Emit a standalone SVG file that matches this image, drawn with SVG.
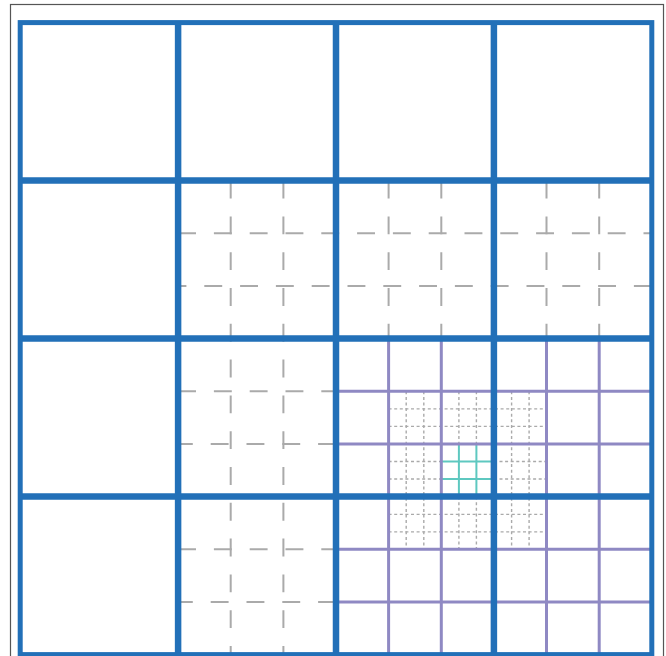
<svg xmlns="http://www.w3.org/2000/svg" width="666" height="656" viewBox="0 0 666 656">
<style>
.frame{fill:none;stroke:#555;stroke-width:1.2}
.blue{stroke:#2270b8;fill:none}
.dash{stroke:#aaaaaa;stroke-width:2;stroke-dasharray:17.9 17.9;fill:none}
.fine{stroke:#aaaaaa;stroke-width:1.4;stroke-dasharray:3 2.6;fill:none}
.purple{stroke:#8f89c3;stroke-width:3;fill:none}
.teal{stroke:#5ec8c0;stroke-width:2;fill:none}
</style>
<rect width="666" height="656" fill="#fff"/>
<g id="frame"><rect class="frame" x="10.5" y="4.5" width="653" height="670"/></g>
<g id="dashed-grid">
<path class="dash" d="M178.1 233.3H651.8M651.8 285.9H178.1"/>
<path class="dash" d="M230.7 180.6V654.6M283.4 180.6V654.6M388.6 180.6V338.6M441.3 180.6V338.6M546.5 180.6V338.6M599.2 180.6V338.6"/>
<path class="dash" d="M178.1 391.3H336M336 443.9H178.1M178.1 549.3H336M336 601.9H178.1"/>
</g>
<g id="fine-grid">
<path class="fine" d="M406.2 391.3V549.3M423.8 391.3V549.3M511.6 391.3V549.3M529.1 391.3V549.3M458.9 391.3V443.9M476.4 391.3V443.9M458.9 496.6V549.3M476.4 496.6V549.3"/>
<path class="fine" d="M388.6 408.9H546.5M388.6 426.4H546.5M388.6 514.4H546.5M388.6 531.9H546.5M388.6 461.5H441.3M388.6 479H441.3M493.9 461.5H546.5M493.9 479H546.5"/>
</g>
<g id="teal-grid">
<path class="teal" d="M458.9 443.9V496.6M476.4 443.9V496.6M441.3 461.5H493.9M441.3 479H493.9"/>
</g>
<g id="purple-grid">
<path class="purple" d="M388.6 338.6V654.6M441.3 338.6V654.6M546.5 338.6V654.6M599.2 338.6V654.6"/>
<path class="purple" d="M336 391.3H651.8M336 443.9H651.8M336 549.3H651.8M336 601.9H651.8"/>
</g>
<g id="blue-grid">
<path class="blue" stroke-width="6.5" d="M178.1 22.6V654.6M336 22.6V654.6M493.9 22.6V654.6M20.2 180.6H651.8M20.2 338.6H651.8M20.2 496.6H651.8"/>
<rect class="blue" stroke-width="5" x="20.2" y="22.6" width="631.6" height="632"/>
</g>
</svg>
